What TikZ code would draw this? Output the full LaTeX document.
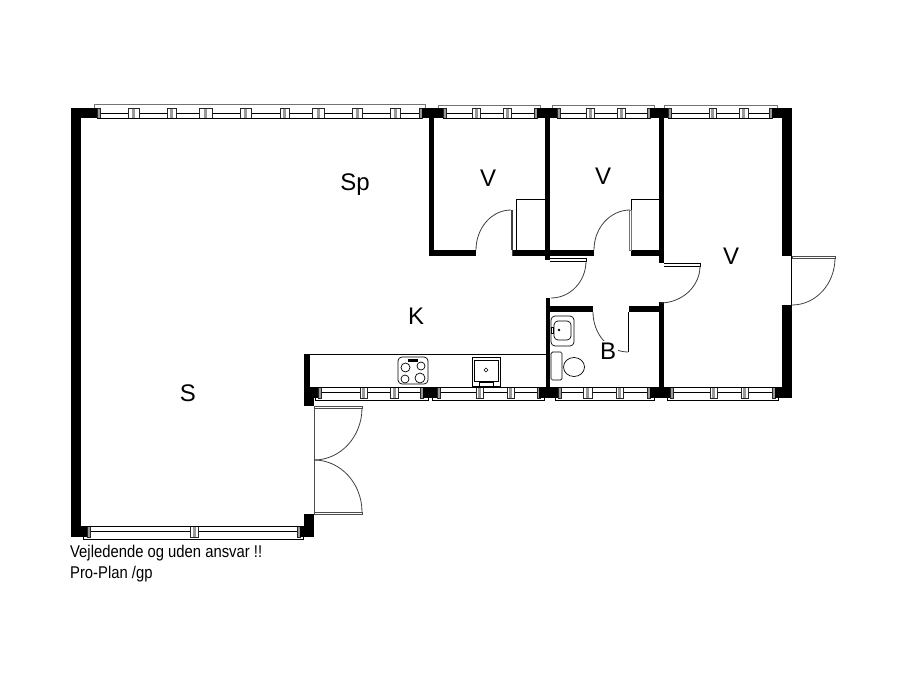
\documentclass[tikz,border=0pt]{standalone}
\usepackage{fontspec}
\setmainfont{Liberation Sans}
\tikzset{
  wall/.style={fill=black,draw=none},
  thin line/.style={draw=black,line width=0.9pt},
  door/.style={draw=black!75,line width=0.8pt},
  leaf/.style={draw=black!70,fill=white,line width=0.9pt},
  room/.style={font=\fontsize{24}{24}\selectfont,inner sep=0pt},
  note/.style={font=\fontsize{17}{20}\selectfont,inner sep=0pt,anchor=base west,xscale=0.872},
  furn/.style={draw=black,line width=0.7pt,fill=white}
}
% #1 x1, #2 x2, #3 inner y (wall face), #4 second line y, #5 mullion far y, #6 mullions list x/x
\newcommand{\glazing}[6]{%
  \draw[line width=0.9pt,black] (#1,#4) -- (#2,#4);
  \foreach \ma/\mb in {#6}{%
    \fill[white] (\ma,#3) rectangle (\mb,#5);
    \fill[black!40] ({0.5*\ma+0.5*\mb-1.5},#3) rectangle ({0.5*\ma+0.5*\mb+1.5},#5);
    \draw[line width=0.8pt,black!85] (\ma,#3) rectangle (\mb,#5);
  }%
  \draw[line width=1pt,black] (#1,#3) -- (#2,#3);
}
\begin{document}
\begin{tikzpicture}[x=1pt,y=-1pt]
\useasboundingbox (0,0) rectangle (900,675);
\fill[white] (0,0) rectangle (900,675);

% top windows
\glazing{97}{422}{118}{113}{108}{97/100,128/139,167/176,199/212,240/251,280/289,312/324,352/362,390/400,419/422}
\draw[black!55,line width=1pt] (94,108) -- (94,104.5) -- (425,104.5) -- (425,108);
\glazing{443}{537}{118}{113}{108}{443/446,472/480,503/511,534/537}
\draw[black!55,line width=1pt] (438,108) -- (438,105) -- (540,105) -- (540,108);
\glazing{557}{650}{118}{113}{108}{557/560,586/594,617/625,647/650}
\draw[black!55,line width=1pt] (552,108) -- (552,105) -- (654,105) -- (654,108);
\glazing{668}{772}{118}{113}{108}{668/671,709/716,739/748,769/772}
\draw[black!55,line width=1pt] (664,108) -- (664,105) -- (777,105) -- (777,108);

% lower windows
\glazing{318}{423}{387}{392}{398}{318/321,360/367,390/398,420/423}
\draw[black,line width=0.9pt] (315,398) -- (315,400) -- (428,400) -- (428,398);
\glazing{437}{540}{387}{392}{398}{437/440,476/483,507/514,537/540}
\draw[black,line width=0.9pt] (432,398) -- (432,400) -- (544,400) -- (544,398);
\glazing{558}{650}{387}{392}{398}{558/561,583/592,616/623,647/650}
\draw[black,line width=0.9pt] (555,398) -- (555,400) -- (654,400) -- (654,398);
\glazing{670}{775}{387}{392}{398}{670/673,710/717,741/748,772/775}
\draw[black,line width=0.9pt] (667,398) -- (667,400) -- (778,400) -- (778,398);

% bottom window of living room
\glazing{87}{300}{526}{531}{537}{87/90,190/198,297/300}
\draw[black,line width=0.9pt] (83,537) -- (83,539) -- (303,539) -- (303,537);

% walls
\fill[wall] (71,108) rectangle (97,118);
\fill[wall] (71,108) rectangle (81,537);
\fill[wall] (71,526) rectangle (87,537);
\fill[wall] (422,108) rectangle (443,118);
\fill[wall] (537,108) rectangle (557,118);
\fill[wall] (650,108) rectangle (668,118);
\fill[wall] (772,108) rectangle (792,118);
\fill[wall] (429,118) rectangle (434,256);
\fill[wall] (429,250) rectangle (476,256);
\fill[wall] (512,250) rectangle (546,256);
\fill[wall] (545,118) rectangle (550,260);
\fill[wall] (550,250) rectangle (594,256);
\fill[wall] (631,250) rectangle (660,256);
\fill[wall] (659,118) rectangle (664,263);
\fill[wall] (782,118) rectangle (792,256);
\fill[wall] (782,305) rectangle (792,398);
\fill[wall] (775,387) rectangle (792,398);
\fill[wall] (546,298) rectangle (550,387);
\fill[wall] (550,306) rectangle (593,312);
\fill[wall] (629,306) rectangle (660,312);
\fill[wall] (659,302) rectangle (664,387);
\fill[wall] (539,387) rectangle (558,398);
\fill[wall] (650,387) rectangle (670,398);
\fill[wall] (423,387) rectangle (437,398);
\fill[wall] (304,354) rectangle (310,387);
\fill[wall] (304,387) rectangle (318,398);
\fill[wall] (304,398) rectangle (314,406);
\fill[wall] (300,526) rectangle (314,537);
\fill[wall] (304,514) rectangle (314,526);

% counter and closets
\draw[thin line] (310,354.5) -- (546,354.5);
\draw[thin line] (516,250) -- (516,199) -- (545,199);
\draw[thin line] (631,250) -- (631,199) -- (659,199);

% doors
\draw[door] (476,250) arc[start angle=180,end angle=270,x radius=35,y radius=40];
\draw[door] (511,210) -- (511,250) (512.5,210) -- (512.5,256);
\draw[door] (594,250) arc[start angle=180,end angle=270,x radius=36,y radius=40];
\draw[leaf,draw=black!55] (629,210) rectangle (631.5,250);
\draw[leaf,draw=black] (550,258) -- (586,258) -- (586,261) -- (550,261);
\draw[door] (586,261) arc[start angle=0,end angle=90,x radius=35,y radius=37];
\draw[door] (593,312) arc[start angle=180,end angle=90,x radius=35,y radius=40];
\draw[door,draw=black] (628,312) -- (628,352);
\draw[leaf,draw=black] (664,263) -- (700,263) -- (700,266) -- (664,266);
\draw[door] (700,266) arc[start angle=0,end angle=90,x radius=40,y radius=37];
\draw[thin line] (791,256) -- (791,305);
\draw[leaf] (792,256) rectangle (835,258);
\draw[door] (835,258) arc[start angle=0,end angle=90,x radius=43,y radius=47];
\draw[thin line,draw=black!70] (314,406) -- (314,514);
\draw[leaf] (314,406) rectangle (362,408);
\draw[door] (362,408) arc[start angle=0,end angle=90,x radius=48,y radius=52];
\draw[door] (314,460) arc[start angle=270,end angle=360,x radius=48,y radius=52];
\draw[leaf] (314,512) rectangle (362,514);

% stove
\draw[furn,rounded corners=4pt] (398,357) rectangle (428,384);
\fill[black] (408,358.5) rectangle (418,361.5);
\draw[furn] (405.5,367.5) circle[radius=4.5];
\draw[furn] (421,366) circle[radius=4];
\draw[furn] (405,379) circle[radius=4];
\draw[furn] (420,378) circle[radius=5];

% kitchen sink
\draw[furn] (472,357) rectangle (500,386);
\draw[furn] (474,360) rectangle (498,381);
\draw[furn] (479,382) rectangle (493,386);
\draw[black,line width=0.6pt] (486,368) -- (488,370) -- (486,372) -- (484,370) -- cycle;

% bathroom fixtures
\draw[furn,rounded corners=4pt] (551,316) rectangle (574,346);
\draw[furn,rounded corners=4pt] (554,321) rectangle (571,340);
\fill[black] (559,330) circle[radius=1.3];
\draw[furn,line width=0.5pt] (551,327) rectangle (553,333);
\draw[furn,rounded corners=1.5pt] (551,352) rectangle (562,380);
\draw[furn] (574,367) ellipse[x radius=10.5,y radius=9.5];

% labels
\node[room] (sp) at (355,185) {Sp};
\node[room] (v1) at (488,178) {V};
\node[room] (v2) at (603,176) {V};
\node[room] (v3) at (731,256) {V};
\node[room] (k) at (416,316) {K};
\node[room] (s) at (188,393) {S};
\node[room,fill=white,inner sep=2pt] (b) at (608,351) {B};
\node[note] (n1) at (70,557) {Vejledende og uden ansvar !!};
\node[note] (n2) at (70,578) {Pro-Plan /gp};
\end{tikzpicture}
\end{document}
